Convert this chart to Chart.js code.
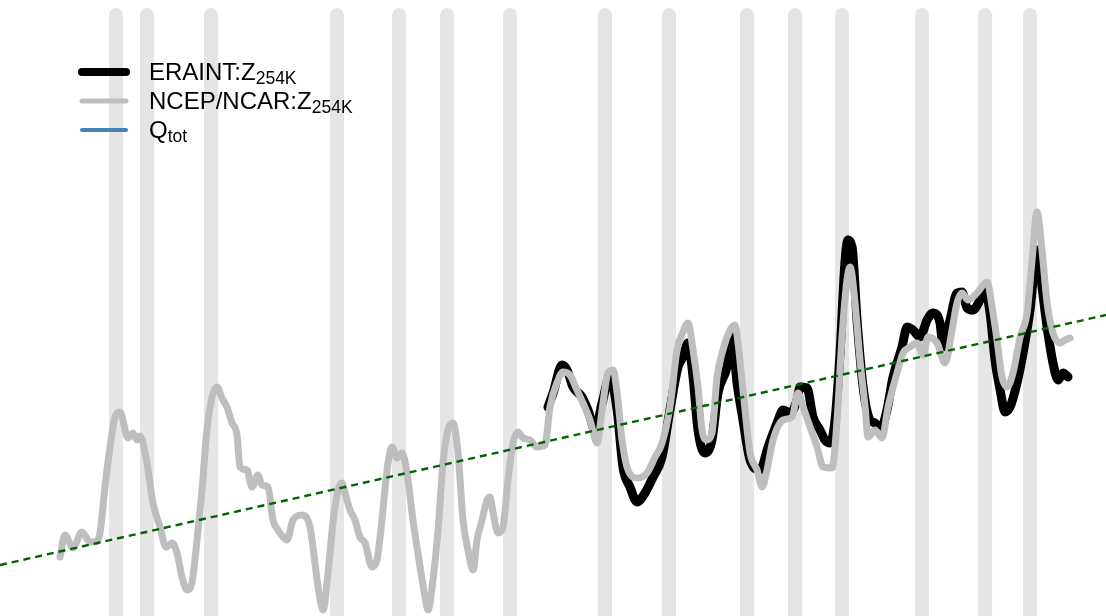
<!DOCTYPE html>
<html>
<head>
<meta charset="utf-8">
<script src="https://cdn.jsdelivr.net/npm/chart.js@4"></script>
<style>
  body { margin: 0; background: #fff; }
  #wrap { width: 1106px; height: 616px; }
</style>
</head>
<body>
<div id="wrap"><canvas id="grafico"></canvas></div>
<script>
// shaded years (grey vertical bars)
const bandYears = [1951.61, 1953.61, 1957.74, 1965.87, 1969.87, 1972.97, 1977.03, 1983.16,
  1987.29, 1992.32, 1995.42, 1998.45, 2003.61, 2007.68, 2010.58];

// NCEP/NCAR series
const ncepYears = [1948.00,1948.32,1948.84,1949.42,1949.94,1950.26,1950.58,1950.90,1951.23,1951.55,
  1951.87,1952.39,1952.71,1952.97,1953.16,1953.61,1954.00,1954.45,1954.84,1955.23,
  1955.55,1955.87,1956.19,1956.52,1956.84,1957.16,1957.48,1957.81,1958.13,1958.45,
  1958.77,1959.10,1959.42,1959.61,1960.06,1960.39,1960.77,1961.03,1961.42,1961.74,
  1962.06,1962.39,1962.65,1963.03,1963.61,1964.13,1964.32,1964.65,1964.97,1965.29,
  1965.61,1965.94,1966.19,1966.39,1966.71,1967.03,1967.35,1967.68,1968.13,1968.45,
  1968.77,1969.10,1969.42,1969.74,1970.06,1970.39,1970.77,1971.23,1971.55,1971.74,
  1972.06,1972.39,1972.71,1973.03,1973.35,1973.68,1974.00,1974.32,1974.65,1974.90,
  1975.23,1975.55,1975.74,1975.94,1976.26,1976.58,1976.90,1977.23,1977.55,1977.87,
  1978.32,1978.77,1979.29,1979.61,1980.13,1980.45,1980.90,1981.35,1981.74,1982.19,
  1982.65,1982.97,1983.35,1983.68,1983.94,1984.26,1984.58,1985.23,1985.87,1986.39,
  1986.84,1987.35,1987.81,1988.19,1988.52,1988.84,1989.16,1989.42,1989.74,1990.06,
  1990.39,1990.77,1991.23,1991.55,1991.74,1992.06,1992.52,1992.97,1993.29,1993.61,
  1994.00,1994.65,1995.23,1995.61,1995.94,1996.39,1996.84,1997.23,1997.81,1998.13,
  1998.45,1998.77,1998.97,1999.29,1999.61,1999.94,2000.13,2000.58,2001.03,2001.42,
  2002.00,2002.39,2002.84,2003.29,2003.68,2004.00,2004.58,2005.10,2005.55,2005.87,
  2006.19,2006.58,2007.16,2007.81,2008.13,2008.45,2008.77,2009.10,2009.48,2009.94,
  2010.39,2010.71,2011.03,2011.35,2011.68,2012.06,2012.52,2012.84,2013.16];
const ncepValues = [-3.14,-2.70,-2.96,-2.64,-2.84,-2.84,-2.66,-1.74,-0.94,-0.34,
  -0.24,-0.76,-0.66,-0.80,-0.72,-1.26,-2.06,-2.54,-2.94,-2.86,
  -3.06,-3.54,-3.80,-3.64,-2.80,-1.80,-0.60,0.06,0.26,0.04,
  -0.14,-0.46,-0.70,-1.34,-1.40,-1.74,-1.50,-1.70,-1.74,-2.40,
  -2.60,-2.74,-2.80,-2.40,-2.30,-2.54,-2.94,-3.74,-4.20,-3.46,
  -2.46,-1.80,-1.66,-1.86,-2.20,-2.40,-2.74,-2.86,-3.34,-3.20,
  -2.40,-1.40,-0.94,-1.16,-1.06,-1.46,-2.40,-3.34,-3.94,-4.20,
  -3.60,-2.60,-1.26,-0.60,-0.46,-1.06,-2.40,-3.00,-3.40,-2.80,
  -2.40,-2.00,-1.94,-2.26,-2.66,-2.54,-1.60,-0.86,-0.64,-0.76,
  -0.80,-0.94,-0.90,-0.14,0.40,0.56,0.50,0.20,-0.06,-0.40,
  -0.86,-0.20,0.54,0.60,0.14,-0.80,-1.34,-1.56,-1.46,-1.14,
  -0.86,-0.14,1.00,1.36,1.54,1.00,0.26,-0.60,-0.80,-0.66,
  0.46,1.00,1.40,1.50,1.14,0.20,-1.06,-1.40,-1.74,-1.40,
  -0.80,-0.40,-0.34,0.14,-0.14,-0.54,-0.94,-1.34,-1.36,-0.40,
  1.26,2.40,2.66,1.94,0.80,-0.14,-0.74,-0.60,-0.76,-0.14,
  0.54,0.94,1.06,1.14,0.90,1.26,1.14,0.74,1.40,1.94,
  2.14,2.00,2.14,2.36,1.86,1.20,0.46,0.26,0.54,1.26,
  1.74,2.80,3.76,3.00,1.94,1.34,1.14,1.20,1.24];

// ERA-Interim series
const eraYears = [1979.48,1979.81,1980.39,1980.71,1981.10,1981.68,1982.06,1982.52,1982.97,1983.48,
  1983.94,1984.32,1984.77,1985.23,1985.74,1986.26,1986.84,1987.35,1987.87,1988.19,
  1988.52,1988.84,1989.16,1989.61,1990.06,1990.45,1991.03,1991.35,1991.68,1992.06,
  1992.52,1993.16,1993.68,1994.26,1994.65,1995.10,1995.55,1995.74,1996.19,1996.58,
  1997.03,1997.35,1997.68,1998.00,1998.32,1998.65,1998.84,1999.10,1999.42,1999.81,
  2000.26,2000.58,2000.90,2001.35,2001.74,2002.32,2002.65,2003.03,2003.48,2003.94,
  2004.32,2004.77,2004.97,2005.42,2005.87,2006.19,2006.52,2006.90,2007.35,2007.68,
  2008.00,2008.32,2008.65,2008.97,2009.29,2009.74,2010.13,2010.58,2011.03,2011.35,
  2011.68,2012.06,2012.39,2012.71,2013.03];
const eraValues = [-0.14,0.14,0.70,0.60,0.26,0.06,-0.20,-0.60,-0.06,0.46,
  -0.20,-1.34,-1.74,-2.04,-1.86,-1.54,-1.14,-0.20,0.66,0.86,
  1.14,0.46,-0.60,-1.06,-0.80,0.14,0.66,1.26,0.34,-0.40,
  -1.20,-1.40,-0.94,-0.46,-0.20,-0.26,0.00,0.26,0.24,-0.34,
  -0.60,-0.80,-0.86,-0.40,0.94,2.80,3.20,3.06,1.60,0.26,
  -0.40,-0.46,-0.60,-0.20,0.46,1.06,1.46,1.40,1.26,1.60,
  1.74,1.54,1.06,1.60,2.14,2.16,1.84,1.80,2.00,2.20,
  1.74,0.80,0.20,-0.24,-0.14,0.34,0.94,1.80,3.00,2.26,
  1.46,0.74,0.40,0.54,0.46];

// linear trend
const trendYears = [1944.13, 2015.48];
const trendValues = [-3.30, 1.70];

const legendItems = [
  { main: "ERAINT:Z", sub: "254K", color: "#000000", width: 8 },
  { main: "NCEP/NCAR:Z", sub: "254K", color: "#bebebe", width: 5 },
  { main: "Q", sub: "tot", color: "#4682b4", width: 4 }
];

function pares(xs, ys) {
  return xs.map((x, i) => ({ x: x, y: ys[i] }));
}

const datasets = [];
datasets.push({
  data: pares(trendYears, trendValues),
  borderColor: "#006400", borderWidth: 2.4, borderDash: [7, 5],
  pointRadius: 0, order: 0
});
datasets.push({
  data: pares(ncepYears, ncepValues),
  borderColor: "#bebebe", borderWidth: 7, borderJoinStyle: "round", borderCapStyle: "round",
  cubicInterpolationMode: "monotone", pointRadius: 0, order: 1
});
datasets.push({
  data: pares(eraYears, eraValues),
  borderColor: "#000000", borderWidth: 9, borderJoinStyle: "round", borderCapStyle: "round",
  cubicInterpolationMode: "monotone", pointRadius: 0, order: 2
});
bandYears.forEach((yr) => {
  datasets.push({
    data: [{ x: yr, y: 7.7 }, { x: yr, y: -5 }],
    borderColor: "#e5e5e5", borderWidth: 14, borderCapStyle: "round",
    pointRadius: 0, order: 3
  });
});

// legend with subscripts, drawn by hand
const legendaPlugin = {
  id: "legenda",
  afterDatasetsDraw(chart) {
    const ctx = chart.ctx;
    ctx.save();
    const baselines = [80, 109, 138];
    legendItems.forEach((it, i) => {
      const b = baselines[i];
      ctx.strokeStyle = it.color;
      ctx.lineWidth = it.width;
      ctx.lineCap = "round";
      ctx.beginPath();
      ctx.moveTo(82, b - 8);
      ctx.lineTo(126, b - 8);
      ctx.stroke();
      ctx.fillStyle = "#000";
      ctx.textBaseline = "alphabetic";
      ctx.font = "24px 'Liberation Sans', Arial, sans-serif";
      ctx.fillText(it.main, 149, b);
      const w = ctx.measureText(it.main).width;
      ctx.font = "17.5px 'Liberation Sans', Arial, sans-serif";
      ctx.fillText(it.sub, 149 + w, b + 4);
    });
    ctx.restore();
  }
};

new Chart(document.getElementById("grafico"), {
  type: "line",
  data: { datasets: datasets },
  options: {
    responsive: true,
    maintainAspectRatio: false,
    animation: false,
    layout: { padding: 0 },
    scales: {
      x: { type: "linear", min: 1944.13, max: 2015.48, display: false },
      y: { min: -4.32, max: 8, display: false }
    },
    plugins: {
      legend: { display: false },
      tooltip: { enabled: false }
    }
  },
  plugins: [legendaPlugin]
});
</script>
</body>
</html>
